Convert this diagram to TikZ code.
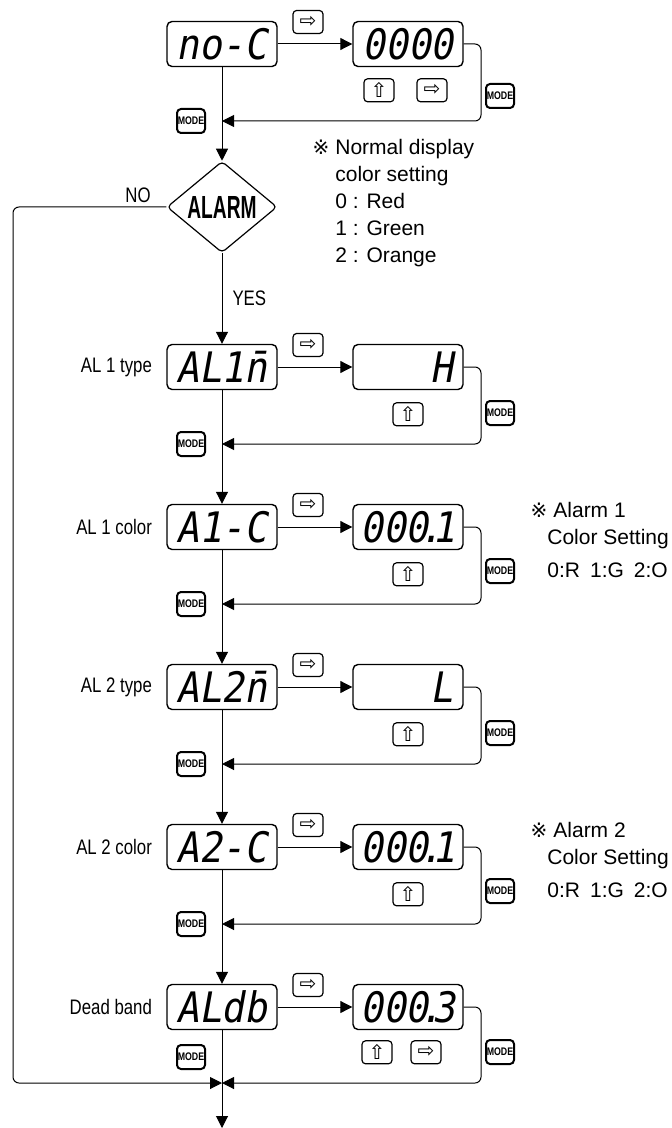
\documentclass[tikz,border=0pt]{standalone}
\usepackage{fontspec}
\setmainfont{Liberation Sans}
\newfontfamily\narrowfont[FakeStretch=0.8]{Liberation Sans}
\newfontfamily\tightfont[FakeStretch=0.6]{Liberation Sans}
\newfontfamily\segfont[FakeStretch=0.9,FakeSlant=0.18]{DejaVu Sans Mono}
\newfontfamily\symfont{DejaVu Sans}
\usepackage{tikz}
\usetikzlibrary{arrows.meta,positioning,shapes.geometric}
\newcommand{\refmark}{{\symfont\fontsize{10}{10}\selectfont ※}}
\newcommand{\dpt}{\kern-.22em.\kern-.22em}
\tikzset{
  disp/.style={
    draw,
    rounded corners=2.5pt,
    line width=0.7pt,
    minimum width=55pt,
    minimum height=22.5pt,
    inner sep=0pt,
    font=\segfont\fontsize{21}{21}\selectfont
  },
  key/.style={draw, rounded corners=1.8pt, line width=0.6pt, minimum width=15pt,
    minimum height=11.5pt, inner sep=0pt, font=\symfont\fontsize{10}{10}\selectfont},
  modekey/.style={draw, rounded corners=2pt, line width=1pt, minimum width=14pt,
    minimum height=12pt, inner sep=0pt, font=\narrowfont\bfseries\fontsize{5.5}{5.5}\selectfont},
  decide/.style={diamond, draw, rounded corners=2pt, line width=0.6pt, minimum width=55pt,
    minimum height=45pt, inner sep=0pt, font=\tightfont\bfseries\fontsize{16}{16}\selectfont},
  lbl/.style={inner sep=0pt, font=\narrowfont\fontsize{10.5}{12}\selectfont},
  note/.style={inner sep=0pt, align=left, font=\fontsize{10.5}{13.5}\selectfont},
  flow/.style={-{Triangle[length=6pt,width=6pt]}, line width=0.5pt}
}
\begin{document}
\begin{tikzpicture}[x=0.5pt, y=-0.5pt]
\useasboundingbox (0,0) rectangle (671,1128);
% displays
\node[disp] (noc) at (222,44) {no-C};
\node[disp] (nocval) at (408,44) {0000};
\node[decide] (alarm) at (222,207) {ALARM};
\node[disp] (al1t) at (222,367) {AL1n̄};
\node[disp] (al1tval) at (408,367) {\phantom{000}H};
\node[disp] (al1c) at (222,527) {A1-C};
\node[disp] (al1cval) at (408,527) {000\dpt1};
\node[disp] (al2t) at (222,687) {AL2n̄};
\node[disp] (al2tval) at (408,687) {\phantom{000}L};
\node[disp] (al2c) at (222,847) {A2-C};
\node[disp] (al2cval) at (408,847) {000\dpt1};
\node[disp] (aldb) at (222,1007) {ALdb};
\node[disp] (aldbval) at (408,1007) {000\dpt3};
% labels
\node[lbl, left=7pt of al1t] (al1tlbl) {AL 1 type};
\node[lbl, left=7pt of al1c] (al1clbl) {AL 1 color};
\node[lbl, left=7pt of al2t] (al2tlbl) {AL 2 type};
\node[lbl, left=7pt of al2c] (al2clbl) {AL 2 color};
\node[lbl, left=7pt of aldb] (aldblbl) {Dead band};
\node[lbl] (nolbl) at (138,195) {NO};
% keys
\node[key] (nockey) at (308,22) {⇨};
\node[key, below=5.5pt of nocval, xshift=-14.5pt] (nocup) {⇧};
\node[key, below=5.5pt of nocval, xshift=12pt] (nocright) {⇨};
\node[modekey] (nocmode) at (500,96) {MODE};
\node[modekey] (mode1) at (191,121) {MODE};
\node[key] (al1tkey) at (308,345) {⇨};
\node[key, below=6pt of al1tval] (al1tup) {⇧};
\node[modekey] (al1tmode) at (500,413) {MODE};
\node[modekey] (mode2) at (191,444) {MODE};
\node[key] (al1ckey) at (308,505) {⇨};
\node[key, below=6pt of al1cval] (al1cup) {⇧};
\node[modekey] (al1cmode) at (500,571) {MODE};
\node[modekey] (mode3) at (191,604) {MODE};
\node[key] (al2tkey) at (308,665) {⇨};
\node[key, below=6pt of al2tval] (al2tup) {⇧};
\node[modekey] (al2tmode) at (500,733) {MODE};
\node[modekey] (mode4) at (191,764) {MODE};
\node[key] (al2ckey) at (308,825) {⇨};
\node[key, below=6pt of al2cval] (al2cup) {⇧};
\node[modekey] (al2cmode) at (500,891) {MODE};
\node[modekey] (mode5) at (191,924) {MODE};
\node[key] (aldbkey) at (308,985) {⇨};
\node[key, below=5pt of aldbval, xshift=-15.5pt] (aldbup) {⇧};
\node[key, below=5pt of aldbval, xshift=9pt] (aldbright) {⇨};
\node[modekey] (aldbmode) at (500,1052) {MODE};
\node[modekey] (mode6) at (191,1057) {MODE};
% notes
\node[note, anchor=north west] (colnote) at (335,139)
  {\llap{\refmark\hspace{3pt}}Normal display\\color setting\\0 : Red\\1 : Green\\2 : Orange};
\node[note, anchor=north west] (al1note) at (547,502)
  {\hspace*{3pt}\llap{\refmark\hspace{3pt}}Alarm 1\\Color Setting};
\node[note, anchor=west] (al1codes) at (547,570) {0:R\hspace{5pt}1:G\hspace{5pt}2:O};
\node[note, anchor=north west] (al2note) at (547,822)
  {\hspace*{3pt}\llap{\refmark\hspace{3pt}}Alarm 2\\Color Setting};
\node[note, anchor=west] (al2codes) at (547,890) {0:R\hspace{5pt}1:G\hspace{5pt}2:O};
% return points
\coordinate (j1) at (222,121); \coordinate (c1) at (481,121);
\coordinate (j2) at (222,444); \coordinate (c2) at (481,444);
\coordinate (j3) at (222,604); \coordinate (c3) at (481,604);
\coordinate (j4) at (222,764); \coordinate (c4) at (481,764);
\coordinate (j5) at (222,924); \coordinate (c5) at (481,924);
\coordinate (jb) at (222,1083); \coordinate (cb) at (481,1083);
\coordinate (cl) at (13,1083);
\coordinate (out) at (222,1128);
% connectors
\draw[flow] (noc) -- (nocval);
\draw[flow] (noc) -- (alarm);
\draw[flow, rounded corners=3pt] (nocval.east) -| (c1) -- (j1);
\draw[flow] (alarm) -- node[lbl, right=5pt] (yeslbl) {YES} (al1t);
\draw[flow, rounded corners=3pt] (alarm.west) -| (cl) -- (jb);
\draw[flow] (al1t) -- (al1tval);
\draw[flow, rounded corners=3pt] (al1tval.east) -| (c2) -- (j2);
\draw[flow] (al1t) -- (al1c);
\draw[flow] (al1c) -- (al1cval);
\draw[flow, rounded corners=3pt] (al1cval.east) -| (c3) -- (j3);
\draw[flow] (al1c) -- (al2t);
\draw[flow] (al2t) -- (al2tval);
\draw[flow, rounded corners=3pt] (al2tval.east) -| (c4) -- (j4);
\draw[flow] (al2t) -- (al2c);
\draw[flow] (al2c) -- (al2cval);
\draw[flow, rounded corners=3pt] (al2cval.east) -| (c5) -- (j5);
\draw[flow] (al2c) -- (aldb);
\draw[flow] (aldb) -- (aldbval);
\draw[flow, rounded corners=3pt] (aldbval.east) -| (cb) -- (jb);
\draw[flow] (aldb) -- (out);
\end{tikzpicture}
\end{document}
